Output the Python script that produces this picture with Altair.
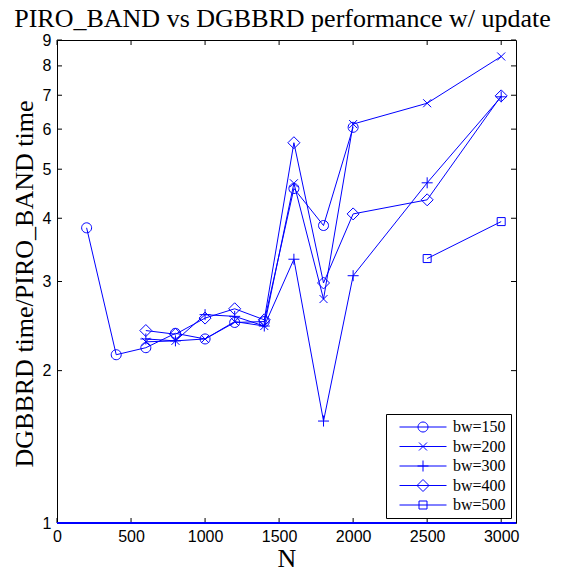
import math
import altair as alt
import pandas as pd

# Speed-up ratio (DGBBRD time / PIRO_BAND time) against matrix size N, per bandwidth
n_150 = [200, 400, 600, 800, 1000, 1200, 1400, 1600, 1800, 2000]
r_150 = [3.83, 2.15, 2.22, 2.37, 2.31, 2.49, 2.50, 4.58, 3.87, 6.05]
n_200 = [600, 800, 1000, 1200, 1400, 1600, 1800, 2000, 2500, 3000]
r_200 = [2.28, 2.29, 2.31, 2.50, 2.45, 4.69, 2.77, 6.14, 6.75, 8.35]
n_300 = [600, 800, 1000, 1200, 1400, 1600, 1800, 2000, 2500, 3000]
r_300 = [2.31, 2.29, 2.58, 2.56, 2.45, 3.32, 1.59, 3.08, 4.70, 6.95]
n_400 = [600, 800, 1000, 1200, 1400, 1600, 1800, 2000, 2500, 3000]
r_400 = [2.40, 2.36, 2.54, 2.65, 2.52, 5.64, 2.98, 4.08, 4.35, 6.98]
n_500 = [2500, 3000]
r_500 = [3.33, 3.94]

series_names = ["bw=150", "bw=200", "bw=300", "bw=400", "bw=500"]
x_ticks = [0, 500, 1000, 1500, 2000, 2500, 3000]
y_ticks = [1, 2, 3, 4, 5, 6, 7, 8, 9]
baseline = [1]
title_text = ["PIRO_BAND vs DGBBRD performance w/ update"]


def ring(r, n=24):
    """Closed polygon outline approximating a circle of radius r."""
    pts = [(r * math.cos(2 * math.pi * k / n), r * math.sin(2 * math.pi * k / n))
           for k in range(n)]
    return "M" + "L".join(f"{x:.3f},{y:.3f}" for x, y in pts) + "Z"


# marker outlines (custom symbol paths in unit coordinates)
marker_paths = [
    ring(1.0),
    "M-0.8,-0.8L0.8,0.8M-0.8,0.8L0.8,-0.8",
    "M-1.1,0L1.1,0M0,-1.1L0,1.1",
    "M0,-1.2L1.2,0L0,1.2L-1.2,0Z",
    "M-0.8,-0.8L0.8,-0.8L0.8,0.8L-0.8,0.8Z",
]
# legend keys: a short line segment with the marker in its middle
key_paths = ["M-4.7,0L4.7,0" + p for p in marker_paths]

rows = []
for name, ns, rs in zip(series_names, [n_150, n_200, n_300, n_400, n_500],
                        [r_150, r_200, r_300, r_400, r_500]):
    for n, r in zip(ns, rs):
        rows.append({"series": name, "N": n, "ratio": r})
df = pd.DataFrame(rows)

W, H = 459, 483
BLUE = "#0000ff"
SERIF = "Liberation Serif"
SANS = "Liberation Sans"

x_scale = alt.Scale(domain=[0, 3100], nice=False, zero=False)
y_scale = alt.Scale(type="log", domain=[1, 9], nice=False)

x_enc = alt.X(
    "N:Q", scale=x_scale,
    axis=alt.Axis(values=x_ticks, format="d", ticks=False, domain=False, grid=False,
                  labelFlush=False,
                  labelFont=SANS, labelFontSize=16, labelColor="black",
                  labelPadding=5, title="N", titleFont=SERIF, titleFontSize=26,
                  titleFontWeight="normal", titleColor="black",
                  titleBaseline="alphabetic", titleY=43),
)
y_enc = alt.Y(
    "ratio:Q", scale=y_scale,
    axis=alt.Axis(values=y_ticks, format="d", ticks=False, domain=False, grid=False,
                  labelFlush=False,
                  labelFont=SANS, labelFontSize=16, labelColor="black",
                  labelPadding=6, title="DGBBRD time/PIRO_BAND time",
                  titleFont=SERIF, titleFontSize=26, titleFontWeight="normal",
                  titleColor="black", titleAngle=270, titleBaseline="alphabetic",
                  titleAlign="center", titleX=-25, titleY=H / 2 + 2),
)

lines = alt.Chart(df).mark_line(color=BLUE, strokeWidth=1).encode(
    x=x_enc, y=y_enc, detail="series:N"
)

points = alt.Chart(df).mark_point(filled=False, color=BLUE, size=100, strokeWidth=1,
                                   opacity=1).encode(
    x="N:Q", y="ratio:Q",
    shape=alt.Shape("series:N", scale=alt.Scale(domain=series_names, range=marker_paths),
                    legend=None),
)

legend_layer = alt.Chart(df).mark_point(filled=False, color=BLUE, size=100,
                                         opacity=0).encode(
    x="N:Q", y="ratio:Q",
    shape=alt.Shape(
        "series:N",
        scale=alt.Scale(domain=series_names, range=key_paths),
        legend=alt.Legend(
            title=None, orient="none", legendX=329, legendY=374,
            labelFont=SERIF, labelFontSize=16, labelColor="black",
            symbolSize=100, symbolStrokeColor=BLUE, symbolFillColor="transparent",
            symbolStrokeWidth=1, symbolOpacity=1,
            symbolOffset=24, labelOffset=22, padding=5, rowPadding=3.5,
            strokeColor="black", fillColor="white", cornerRadius=0,
        ),
    ),
)

# reference line at ratio 1 along the bottom of the plot
base_df = pd.DataFrame({"x0": [0], "x1": [3100], "y": baseline})
base_rule = alt.Chart(base_df).mark_rule(color=BLUE, strokeWidth=2).encode(
    x="x0:Q", x2="x1:Q", y="y:Q"
)

# inward-pointing tick marks on all four sides
xt = pd.DataFrame({"v": x_ticks})
yt = pd.DataFrame({"v": y_ticks})
tick_len = 5
x_bottom = alt.Chart(xt).mark_rule(color="black", strokeWidth=1).encode(
    x="v:Q", y=alt.value(H), y2=alt.value(H - tick_len))
x_top = alt.Chart(xt).mark_rule(color="black", strokeWidth=1).encode(
    x="v:Q", y=alt.value(0), y2=alt.value(tick_len))
y_left = alt.Chart(yt).mark_rule(color="black", strokeWidth=1).encode(
    y="v:Q", x=alt.value(0), x2=alt.value(tick_len))
y_right = alt.Chart(yt).mark_rule(color="black", strokeWidth=1).encode(
    y="v:Q", x=alt.value(W - tick_len), x2=alt.value(W))

# chart heading, set above the plot frame
heading = alt.Chart(pd.DataFrame({"t": title_text})).mark_text(
    font=SERIF, fontSize=26, color="black", align="center", baseline="alphabetic"
).encode(text="t:N", x=alt.value(W / 2 - 4), y=alt.value(-13))

chart = alt.layer(
    x_bottom, x_top, y_left, y_right, lines, points, legend_layer, base_rule, heading
).resolve_scale(shape="independent").properties(
    width=W, height=H,
    autosize=alt.AutoSizeParams(type="none"),
    padding={"left": 57, "top": 40, "right": 49, "bottom": 48},
    background="white",
).configure_view(stroke="black", strokeWidth=1)

chart.save("out.html", embed_options={"renderer": "svg", "actions": False})
